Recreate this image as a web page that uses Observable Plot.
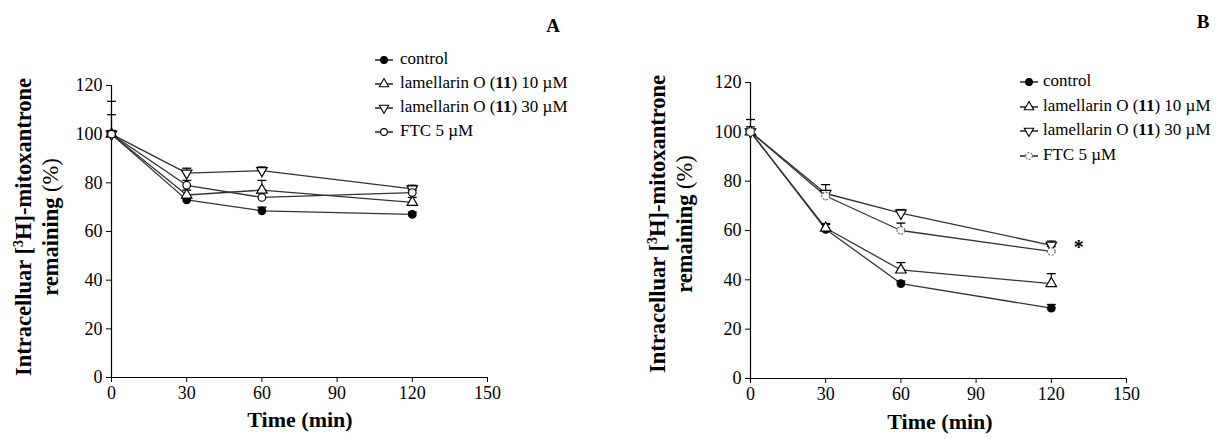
<!DOCTYPE html>
<html>
<head>
<meta charset="utf-8">
<script src="https://cdn.jsdelivr.net/npm/d3@7"></script>
<script src="https://cdn.jsdelivr.net/npm/@observablehq/plot@0.6"></script>
<style>
  html, body { margin: 0; padding: 0; background: #fff; }
  #root { position: relative; width: 1230px; height: 439px; overflow: hidden; font-family: "Liberation Serif", "Times New Roman", serif; color: #000; }
  .panel { position: absolute; top: 0; }
  .ylab { position: absolute; transform: translate(-50%, -50%) rotate(-90deg); text-align: center; font-weight: bold; font-size: 22.5px; line-height: 27px; white-space: nowrap; font-family: "Liberation Serif", serif; }
  .xlab { position: absolute; transform: translateX(-50%); font-weight: bold; font-size: 22px; font-family: "Liberation Serif", serif; }
  .letter { position: absolute; transform: translateX(-50%); font-weight: bold; font-size: 19px; font-family: "Liberation Serif", serif; }
  .leg { position: absolute; font-size: 17px; line-height: 20px; height: 20px; white-space: nowrap; font-family: "Liberation Serif", serif; }
  .legsym { position: absolute; }
</style>
</head>
<body>
<div id="root"></div>
<script>
// ---------- data ----------
const times = [0, 30, 60, 120];
const seriesNames = ["control", "lamellarin O (11) 10 µM", "lamellarin O (11) 30 µM", "FTC 5 µM"];
const xTicks = [0, 30, 60, 90, 120, 150];
const yTicks = [0, 20, 40, 60, 80, 100, 120];

// Panel A (mean, upper SD)
const aControl = [100, 73, 68.5, 67];
const aControlErr = [1, 1, 1.5, 1];
const aLam10 = [100, 75, 77, 72];
const aLam10Err = [1.5, 2, 4, 2];
const aLam30 = [100, 84, 85, 77.5];
const aLam30Err = [13.5, 2, 1.5, 1.5];
const aFTC = [100, 79, 74, 76];
const aFTCErr = [8, 2, 3, 1];

// Panel B
const bControl = [100, 60.5, 38.5, 28.5];
const bControlErr = [1, 2.3, 1, 1.5];
const bLam10 = [100, 61, 44, 38.5];
const bLam10Err = [1, 1.5, 3, 4];
const bLam30 = [100, 75, 67, 54];
const bLam30Err = [5, 3.6, 1.5, 1.7];
const bFTC = [100, 74, 60, 51.5];
const bFTCErr = [2, 2, 3, 2];

// significance annotation for panel B
const bStar = [{x: 131, y: 53, label: "*"}];

// ---------- helpers ----------
function rows(vals, errs, name) {
  return times.map((t, i) => ({t, v: vals[i], e: errs[i], s: name}));
}
const capSymbol = {
  draw(ctx, size) {
    const w = 4.5;
    ctx.moveTo(-w, 0); ctx.lineTo(w, 0);
  }
};
const styles = [
  {symbol: "circle", fill: "#000", stroke: "#000", rotate: 0, dash: null, r: 3.8},
  {symbol: "triangle", fill: "#fff", stroke: "#000", rotate: 0, dash: null, r: 3.9},
  {symbol: "triangle", fill: "#fff", stroke: "#000", rotate: 180, dash: null, r: 3.9},
  {symbol: "circle", fill: "#fff", stroke: "#000", rotate: 0, dash: null, r: 3.8}
];

function makePanel(seriesData, opts) {
  const all = seriesData.flat();
  const marks = [
    Plot.ruleX([0], {stroke: "#000", strokeWidth: 1.2}),
    Plot.ruleY([0], {stroke: "#000", strokeWidth: 1.2}),
    Plot.axisX({ticks: xTicks, tickSize: 5, tickPadding: 4, tickFormat: d => String(d), label: null}),
    Plot.axisY({ticks: yTicks, tickSize: 5, tickPadding: 4, tickFormat: d => String(d), label: null}),
    Plot.line(all, {x: "t", y: "v", z: "s", stroke: "#333", strokeWidth: 1.3}),
    Plot.ruleX(all, {x: "t", y1: "v", y2: d => d.v + d.e, stroke: "#000", strokeWidth: 1.1}),
    Plot.dot(all, {x: "t", y: d => d.v + d.e, symbol: capSymbol, stroke: "#000", strokeWidth: 1.3, fill: "none"})
  ];
  seriesData.forEach((sd, i) => {
    const st = opts.styles[i];
    marks.push(Plot.dot(sd, {x: "t", y: "v", symbol: st.symbol, r: st.r, rotate: st.rotate,
      fill: st.fill, stroke: st.stroke, strokeWidth: 1.2, strokeDasharray: st.dash}));
  });
  if (opts.annot) {
    marks.push(Plot.text(opts.annot, {x: "x", y: "y", text: "label", fontSize: 20, fontWeight: "bold", fill: "#000"}));
  }
  return Plot.plot({
    width: 615, height: 439,
    marginLeft: opts.ml, marginRight: opts.mr, marginTop: opts.mt, marginBottom: opts.mb,
    x: {domain: [0, 150]},
    y: {domain: [0, 120]},
    style: {fontFamily: "Liberation Serif, Times New Roman, serif", fontSize: "18px", color: "#000", background: "transparent"},
    marks
  });
}

const root = document.getElementById("root");

function addPanel(left, seriesData, opts) {
  const svg = makePanel(seriesData, opts);
  svg.classList.add("panel");
  svg.style.left = left + "px";
  root.appendChild(svg);
}

function legendSymbol(i, st) {
  const ns = "http://www.w3.org/2000/svg";
  const svg = document.createElementNS(ns, "svg");
  svg.setAttribute("width", 20); svg.setAttribute("height", 14);
  const line = document.createElementNS(ns, "line");
  line.setAttribute("x1", 1); line.setAttribute("x2", 19); line.setAttribute("y1", 7); line.setAttribute("y2", 7);
  line.setAttribute("stroke", "#000"); line.setAttribute("stroke-width", 1.3);
  svg.appendChild(line);
  const path = document.createElementNS(ns, "path");
  const type = st.symbol === "circle" ? d3.symbolCircle : d3.symbolTriangle;
  const size = Math.PI * st.r * st.r * 0.8;
  path.setAttribute("d", d3.symbol(type, size)());
  path.setAttribute("transform", `translate(10,7) rotate(${st.rotate})`);
  path.setAttribute("fill", st.fill); path.setAttribute("stroke", st.stroke);
  path.setAttribute("stroke-width", 1.1);
  if (st.dash) path.setAttribute("stroke-dasharray", st.dash);
  svg.appendChild(path);
  return svg;
}

function labelHTML(name) {
  return name.replace("(11)", "(<b>11</b>)");
}

function addLegend(symX, textX, ys, stylesArr) {
  seriesNames.forEach((name, i) => {
    const s = document.createElement("div");
    s.className = "legsym";
    s.style.left = (symX - 10) + "px";
    s.style.top = (ys[i] - 7) + "px";
    s.appendChild(legendSymbol(i, stylesArr[i]));
    root.appendChild(s);
    const t = document.createElement("div");
    t.className = "leg";
    t.style.left = textX + "px";
    t.style.top = (ys[i] - 11) + "px";
    t.innerHTML = labelHTML(name);
    root.appendChild(t);
  });
}

function addText(cls, html, x, y) {
  const d = document.createElement("div");
  d.className = cls;
  d.style.left = x + "px";
  d.style.top = y + "px";
  d.innerHTML = html;
  root.appendChild(d);
}

// ---------- panel A ----------
const stylesA = styles;
addPanel(0, [
  rows(aControl, aControlErr, seriesNames[0]),
  rows(aLam10, aLam10Err, seriesNames[1]),
  rows(aLam30, aLam30Err, seriesNames[2]),
  rows(aFTC, aFTCErr, seriesNames[3])
], {ml: 111, mr: 128, mt: 85, mb: 62, styles: stylesA});

// ---------- panel B ----------
const stylesB = styles.map((s, i) => i === 3 ? {...s, stroke: "#666", dash: "2,1.5"} : s);
addPanel(615, [
  rows(bControl, bControlErr, seriesNames[0]),
  rows(bLam10, bLam10Err, seriesNames[1]),
  rows(bLam30, bLam30Err, seriesNames[2]),
  rows(bFTC, bFTCErr, seriesNames[3])
], {ml: 135, mr: 104, mt: 82, mb: 61, styles: stylesB, annot: bStar});

// legends
addLegend(384, 400, [60, 84, 108, 132], stylesA);
addLegend(1029, 1043, [82, 107, 131, 156], stylesB);

// letters
addText("letter", "A", 553, 15);
addText("letter", "B", 1203, 11);

// x-axis titles
addText("xlab", "Time (min)", 300, 407);
addText("xlab", "Time (min)", 940, 409);

// y-axis titles
const yTitle = 'Intracelluar [<sup style="font-size:14px;line-height:0">3</sup>H]-mitoxantrone<br>remaining <span style="font-weight:normal">(%)</span>';
addText("ylab", yTitle, 37, 227);
addText("ylab", yTitle, 671, 224);
</script>
</body>
</html>
